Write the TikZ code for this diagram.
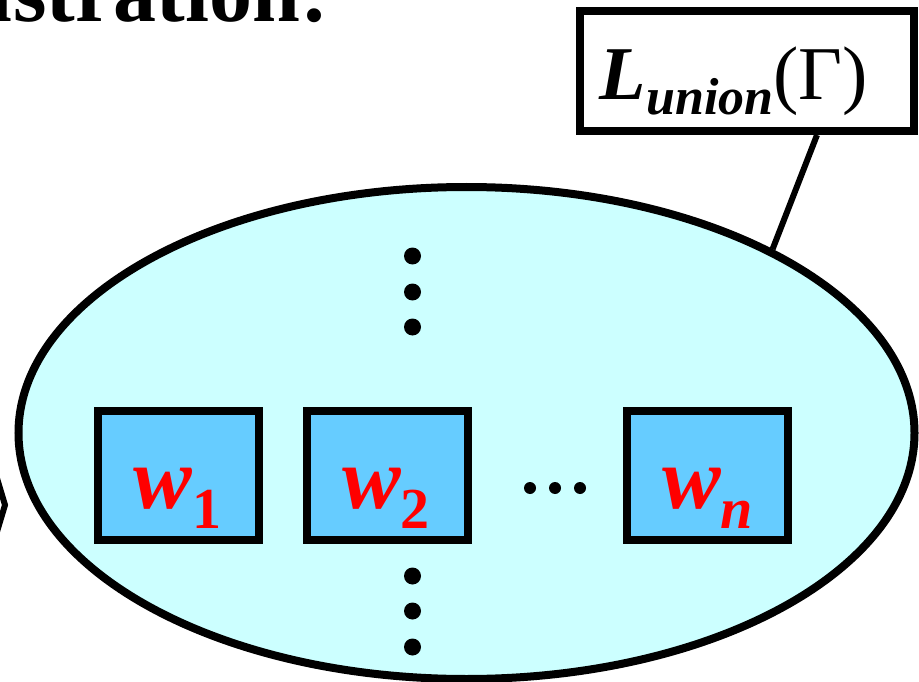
\documentclass[tikz,border=0pt]{standalone}
\usepackage{fontspec}
\setmainfont{Liberation Serif}[
  BoldFont={Liberation Serif Bold},
  ItalicFont={Liberation Serif Italic},
  BoldItalicFont={Liberation Serif Bold Italic}]
\usetikzlibrary{shapes.geometric,calc}
\definecolor{setfill}{HTML}{CCFFFF}
\definecolor{wordfill}{HTML}{66CCFF}
\definecolor{wordred}{HTML}{FF0000}
\tikzset{
  setellipse/.style={ellipse, draw=black, fill=setfill, line width=8pt,
    minimum width=896pt, minimum height=492pt, inner sep=0pt},
  wordbox/.style={rectangle, draw=black, fill=wordfill, line width=8pt,
    minimum width=161pt, minimum height=129pt, inner sep=0pt},
  wordtext/.style={anchor=base, inner sep=0pt, text=wordred,
    font=\fontsize{88}{88}\selectfont\bfseries\itshape},
  labelbox/.style={rectangle, draw=black, fill=white, line width=8pt,
    minimum width=334pt, minimum height=120pt, inner sep=0pt},
  bigdot/.style={circle, fill=black, inner sep=0pt, minimum size=17pt},
  smalldot/.style={circle, fill=black, inner sep=0pt, minimum size=12pt},
}
\newcommand{\wsub}[1]{\raisebox{-20pt}{\fontsize{58}{58}\selectfont #1}}
\begin{document}
\begin{tikzpicture}[x=1pt, y=-1pt]
  \useasboundingbox (0,0) rectangle (919,682);
  \clip (0,0) rectangle (919,682);

  % heading, partly outside the frame
  \node[anchor=base east, inner sep=0pt, font=\fontsize{86}{86}\selectfont\bfseries]
    (head) at (329,22) {ustration:};

  % incoming arrow tip at the left edge
  \coordinate (tipA) at (-4,475);
  \coordinate (tipB) at (5,505);
  \coordinate (tipC) at (-4,535);
  \draw[line width=6pt, line join=miter] (tipA) -- (tipB) -- (tipC);

  % the set
  \node[setellipse] (ell) at (466.5,433) {};

  % vertical ellipsis above and below
  \node[bigdot] (da1) at (412.5,256) {};
  \node[bigdot] (da2) at (412.5,292) {};
  \node[bigdot] (da3) at (412.5,327) {};
  \node[bigdot] (db1) at (412.5,576) {};
  \node[bigdot] (db2) at (412.5,611) {};
  \node[bigdot] (db3) at (412.5,647) {};

  % words
  \node[wordbox] (w1) at (178.5,475.5) {};
  \node[wordbox] (w2) at (387,475.5) {};
  \node[wordbox] (wn) at (707,475.5) {};
  \node[wordtext] (t1) at (177.5,508) {w\wsub{\upshape 1}};
  \node[wordtext] (t2) at (386,508) {w\wsub{\upshape 2}};
  \node[wordtext] (tn) at (707.5,508) {w\wsub{n}};

  % horizontal ellipsis
  \node[smalldot] (h1) at (530,488) {};
  \node[smalldot] (h2) at (555,488) {};
  \node[smalldot] (h3) at (580,488) {};

  % label of the set
  \node[labelbox] (lbl) at (747,71) {};
  \node[anchor=base, inner sep=0pt] (ltext) at (734,100)
    {{\fontsize{76}{76}\selectfont\bfseries\itshape L}\raisebox{-15pt}{\fontsize{52}{52}\selectfont\bfseries\itshape union}{\fontsize{76}{76}\selectfont (Γ)}};
  \draw[line width=6pt] ([xshift=70pt]lbl.south) -- (ell.31.5);
\end{tikzpicture}
\end{document}
